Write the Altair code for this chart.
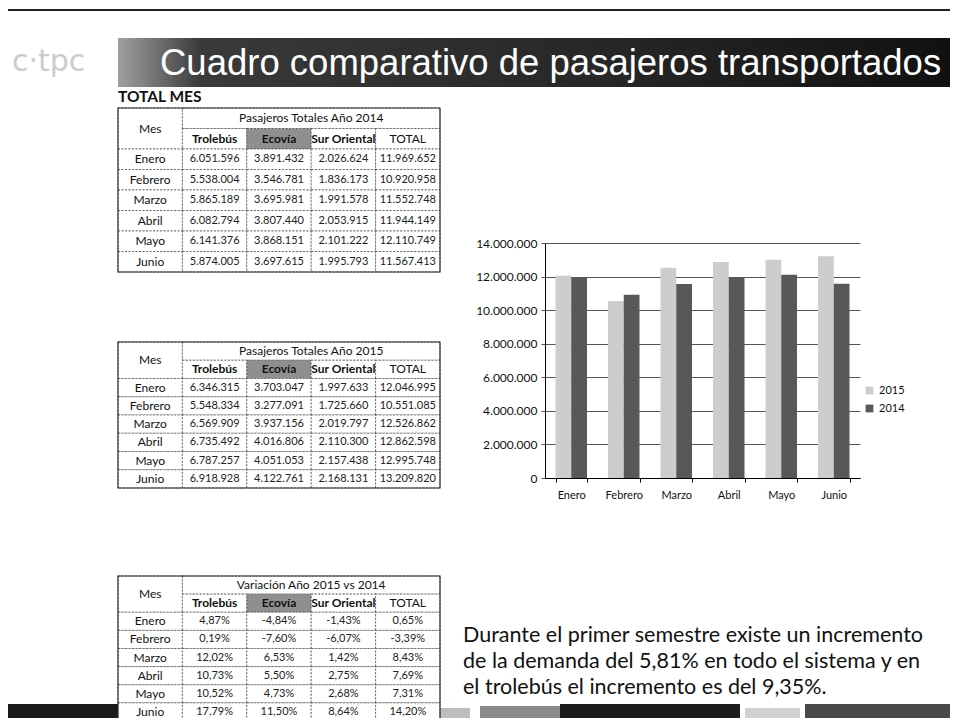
import altair as alt
import pandas as pd

# ---------------- data ----------------
meses = ["Enero", "Febrero", "Marzo", "Abril", "Mayo", "Junio"]
columnas = ["Trolebús", "Ecovía", "Sur Oriental", "TOTAL"]
anios = ["2015", "2014"]

trolebus_2014 = [6051596, 5538004, 5865189, 6082794, 6141376, 5874005]
ecovia_2014 = [3891432, 3546781, 3695981, 3807440, 3868151, 3697615]
sur_2014 = [2026624, 1836173, 1991578, 2053915, 2101222, 1995793]
total_2014 = [11969652, 10920958, 11552748, 11944149, 12110749, 11567413]

trolebus_2015 = [6346315, 5548334, 6569909, 6735492, 6787257, 6918928]
ecovia_2015 = [3703047, 3277091, 3937156, 4016806, 4051053, 4122761]
sur_2015 = [1997633, 1725660, 2019797, 2110300, 2157438, 2168131]
total_2015 = [12046995, 10551085, 12526862, 12862598, 12995748, 13209820]

var_trolebus = [4.87, 0.19, 12.02, 10.73, 10.52, 17.79]
var_ecovia = [-4.84, -7.60, 6.53, 5.50, 4.73, 11.50]
var_sur = [-1.43, -6.07, 1.42, 2.75, 2.68, 8.64]
var_total = [0.65, -3.39, 8.43, 7.69, 7.31, 14.20]

titulo = "Cuadro comparativo de pasajeros transportados"
subtitulo = "TOTAL MES"
tabla_titulos = ["Pasajeros Totales Año 2014", "Pasajeros Totales Año 2015",
                 "Variación Año 2015 vs 2014"]
parrafo = ["Durante el primer semestre existe un incremento",
           "de la demanda del 5,81% en todo el sistema y en",
           "el trolebús el incremento es del 9,35%."]
logo = "c·tpc"

# ---------------- layout ----------------
OFF = 8
W, H = 942, 710
FONT = "Lato"


def px(v):
    return v - OFF


dummy = pd.DataFrame({"d": [0]})


def caja(x0, x1, y0, y1, **kw):
    return alt.Chart(dummy).mark_rect(**kw).encode(
        x=alt.value(px(x0)), x2=alt.value(px(x1)),
        y=alt.value(px(y0)), y2=alt.value(px(y1)))


def texto(s, x, y, **kw):
    return alt.Chart(pd.DataFrame({"t": [s]})).mark_text(**kw).encode(
        text="t:N", x=alt.value(px(x)), y=alt.value(px(y)))


def tabla(nombre, series, porcentaje, x0, x1, y0, y1):
    cells = [dict(c0=0, c1=1, r0=0, r1=2, txt="Mes", role="mes"),
             dict(c0=1, c1=5, r0=0, r1=1, txt=nombre, role="mes")]
    for j, col in enumerate(columnas):
        role = "eco" if col == "Ecovía" else ("mes" if col == "TOTAL" else "bold")
        cells.append(dict(c0=j + 1, c1=j + 2, r0=1, r1=2, txt=col, role=role))
    for i, m in enumerate(meses):
        cells.append(dict(c0=0, c1=1, r0=i + 2, r1=i + 3, txt=m, role="mes"))
        for j, s in enumerate(series):
            cells.append(dict(c0=j + 1, c1=j + 2, r0=i + 2, r1=i + 3,
                              val=s[i], role="num"))
    df = pd.DataFrame(cells)
    xs = alt.Scale(domain=[0, 5], range=[px(x0), px(x1)], nice=False, zero=False)
    ys = alt.Scale(domain=[0, 8], range=[px(y0), px(y1)], nice=False, zero=False)
    base = alt.Chart(df)
    rects = base.mark_rect(stroke="#555", strokeWidth=0.8, strokeDash=[2, 1.5]).encode(
        x=alt.X("c0:Q", scale=xs, axis=None), x2="c1",
        y=alt.Y("r0:Q", scale=ys, axis=None), y2="r1",
        fill=alt.condition(alt.datum.role == "eco", alt.value("#8f8f8f"), alt.value("white")),
    )
    frame = base.transform_aggregate(
        a0="min(c0)", a1="max(c1)", b0="min(r0)", b1="max(r1)"
    ).mark_rect(filled=False, stroke="#222", strokeWidth=1.1).encode(
        x=alt.X("a0:Q", scale=xs, axis=None), x2="a1",
        y=alt.Y("b0:Q", scale=ys, axis=None), y2="b1",
    )
    centro = base.transform_calculate(
        xc="(datum.c0 + datum.c1) / 2", yc="(datum.r0 + datum.r1) / 2",
        p="datum.val / 100")

    def capa(role, **kw):
        return centro.transform_filter(alt.datum.role == role).mark_text(
            font=FONT, fontSize=12, color="#111", **kw).encode(
            x=alt.X("xc:Q", scale=xs, axis=None),
            y=alt.Y("yc:Q", scale=ys, axis=None),
            text="txt:N")

    t_mes = capa("mes")
    t_bold = capa("bold", fontWeight="bold")
    t_eco = capa("eco", fontWeight="bold")
    if porcentaje:
        numtxt = alt.Text("p:Q", format=".2%")
    else:
        numtxt = alt.Text("val:Q", format=",d")
    t_num = centro.transform_filter(alt.datum.role == "num").mark_text(
        font=FONT, fontSize=11, color="#222").encode(
        x=alt.X("xc:Q", scale=xs, axis=None),
        y=alt.Y("yc:Q", scale=ys, axis=None),
        text=numtxt)
    return alt.layer(rects, frame, t_mes, t_bold, t_eco, t_num)


# ---------------- decoration ----------------
linea_sup = caja(0, 958, 9, 11, color="#222")
banner = caja(118, 950, 38, 87, fill=alt.Gradient(
    gradient="linear", x1=0, x2=1, y1=0, y2=0,
    stops=[alt.GradientStop(color="#a0a0a0", offset=0),
           alt.GradientStop(color="#3a3a3a", offset=0.1),
           alt.GradientStop(color="#262626", offset=0.6),
           alt.GradientStop(color="#111111", offset=1)]))
t_titulo = texto(titulo, 160, 64, font="Liberation Sans", fontSize=36.5,
                 color="white", align="left", baseline="middle")
t_logo = texto(logo, 12, 62, font="DejaVu Sans", fontSize=30, color="#cccccc",
               align="left", baseline="middle")
t_sub = texto(subtitulo, 118, 97, font=FONT, fontSize=15.5, fontWeight="bold",
              color="#111", align="left", baseline="middle")

banda = [
    caja(0, 118, 704, 726, color="#1a1a1a"),
    caja(440, 470, 708, 726, color="#bdbdbd"),
    caja(480, 560, 706, 726, color="#8a8a8a"),
    caja(560, 740, 704, 726, color="#1c1c1c"),
    caja(745, 800, 708, 726, color="#d0d0d0"),
    caja(805, 958, 704, 726, color="#4a4a4a"),
]

t1 = tabla(tabla_titulos[0], [trolebus_2014, ecovia_2014, sur_2014, total_2014],
           False, 118, 440, 108, 272)
t2 = tabla(tabla_titulos[1], [trolebus_2015, ecovia_2015, sur_2015, total_2015],
           False, 118, 440, 342, 488)
t3 = tabla(tabla_titulos[2], [var_trolebus, var_ecovia, var_sur, var_total],
           True, 118, 440, 576, 721)

# ---------------- bar chart ----------------
df_bar = pd.DataFrame({
    "mes": meses * 2,
    "anio": [anios[0]] * 6 + [anios[1]] * 6,
    "total": total_2015 + total_2014,
})
X0, X1, Y0, Y1 = 545, 860, 243, 478
barras = alt.Chart(df_bar).mark_bar().encode(
    x=alt.X("mes:N", sort=meses,
            scale=alt.Scale(range=[px(X0), px(X1)], paddingInner=0.4, paddingOuter=0.2),
            axis=alt.Axis(title=None, orient="bottom", offset=px(Y1) - H, labelAngle=0,
                          tickBand="extent", domainColor="#000", tickColor="#000",
                          tickSize=4, labelFont=FONT, labelFontSize=11, labelColor="#111",
                          labelPadding=7, grid=False)),
    xOffset=alt.XOffset("anio:N", sort=anios),
    y=alt.Y("total:Q",
            scale=alt.Scale(domain=[0, 14000000], range=[px(Y1), px(Y0)], nice=False),
            axis=alt.Axis(title=None, orient="left", offset=-px(X0), format=",d",
                          values=[0, 2000000, 4000000, 6000000, 8000000, 10000000,
                                  12000000, 14000000],
                          grid=True, gridColor="#555", gridWidth=1,
                          domainColor="#000", tickColor="#555", tickSize=4,
                          labelFont=FONT, labelFontSize=12, labelColor="#111",
                          labelPadding=4)),
    color=alt.Color("anio:N", scale=alt.Scale(domain=anios, range=["#cdcdcd", "#585858"]),
                    legend=alt.Legend(title=None, orient="none", legendX=px(864),
                                      legendY=px(385), symbolType="square", symbolSize=60,
                                      labelFont=FONT, labelFontSize=11, labelColor="#111",
                                      rowPadding=6)),
)

t_parrafo = alt.Chart(pd.DataFrame({"t": ["\n".join(parrafo)]})).mark_text(
    font=FONT, fontSize=21.5, color="#111", align="left", baseline="middle",
    lineBreak="\n", lineHeight=26).encode(
    text="t:N", x=alt.value(px(463)), y=alt.value(px(636)))

chart = alt.layer(
    linea_sup, *banda, banner, t_logo, t_titulo, t_sub,
    t1, t2, t3, barras, t_parrafo,
).resolve_scale(
    x="independent", y="independent"
).properties(
    width=W, height=H, padding=0, autosize="none",
    background="white",
).configure(
    locale={"number": {"decimal": ",", "thousands": ".", "grouping": [3],
                       "currency": ["", " €"], "minus": "-"}}
).configure_view(stroke=None)

chart.save("out.html", embed_options={"renderer": "svg", "actions": False})
